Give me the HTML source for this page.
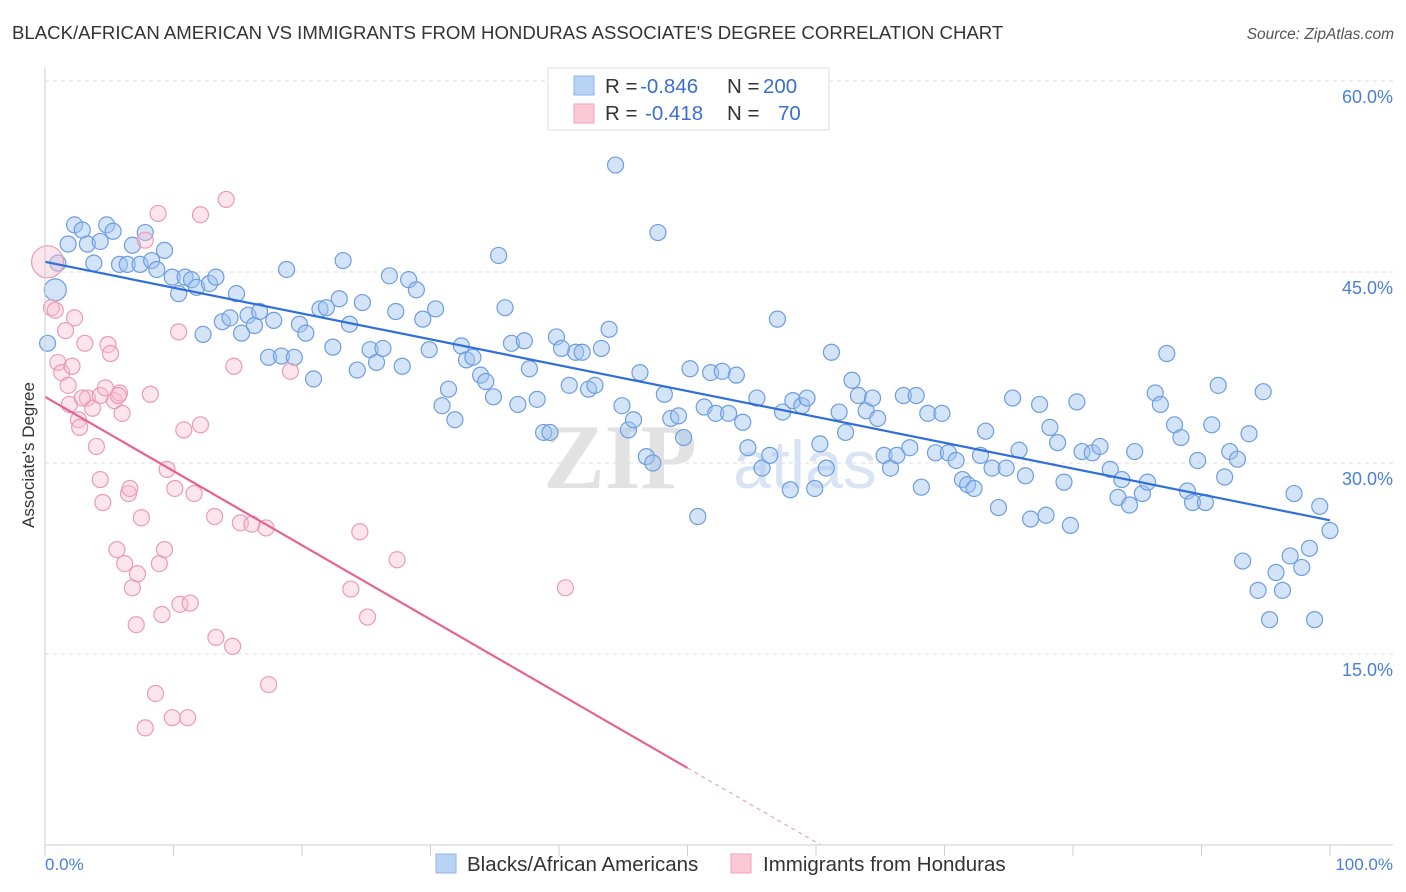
<!DOCTYPE html>
<html><head><meta charset="utf-8"><style>
body{margin:0;background:#fff;font-family:"Liberation Sans",sans-serif;}
svg{display:block}
</style></head><body>
<svg id="chart" width="1406" height="892">
<text x="12" y="39" font-size="18.6" fill="#333">BLACK/AFRICAN AMERICAN VS IMMIGRANTS FROM HONDURAS ASSOCIATE'S DEGREE CORRELATION CHART</text>
<text x="1394" y="39" font-size="15.5" fill="#555" font-style="italic" text-anchor="end">Source: ZipAtlas.com</text>
<g id="grid"></g>
<text x="620" y="488" font-size="92" fill="#e2e2e2" font-family="Liberation Serif" font-weight="bold" text-anchor="middle">ZIP</text>
<text x="805" y="488" font-size="68" fill="#d8e4f4" text-anchor="middle">atlas</text>
<g id="pts"></g>
<g id="lines"></g>
<line x1="45" y1="68" x2="45" y2="845" stroke="#ccc"/>
<line x1="45" y1="845" x2="1393" y2="845" stroke="#ccc"/>
<text transform="translate(34,455) rotate(-90)" font-size="17" fill="#333" text-anchor="middle">Associate's Degree</text>
<text x="45" y="870" font-size="17" fill="#4a7fd6">0.0%</text>
<text x="1393" y="870" font-size="17" fill="#4a7fd6" text-anchor="end">100.0%</text>
<g>
<rect x="548" y="68" width="281" height="62" fill="#fff" stroke="#ddd"/>
<rect x="574" y="76" width="20" height="19" fill="#b9d3f5" stroke="#8fb3e8"/>
<rect x="574" y="104" width="20" height="19" fill="#fbc8d8" stroke="#f0a0b8"/>
<text x="605" y="93" font-size="20.5" fill="#333">R = <tspan x="640" fill="#3a6fd0">-0.846</tspan><tspan x="727">N = </tspan><tspan x="763" fill="#3a6fd0">200</tspan></text>
<text x="605" y="120" font-size="20.5" fill="#333">R = <tspan x="645" fill="#3a6fd0">-0.418</tspan><tspan x="727">N = </tspan><tspan x="778" fill="#3a6fd0">70</tspan></text>
</g>
<g>
<rect x="436" y="854" width="20" height="19" fill="#b9d3f5" stroke="#8fb3e8"/>
<text x="467" y="871" font-size="20.5" fill="#333">Blacks/African Americans</text>
<rect x="731" y="854" width="20" height="19" fill="#fbc8d8" stroke="#f0a0b8"/>
<text x="763" y="871" font-size="20.5" fill="#333">Immigrants from Honduras</text>
</g>
</svg>
<script>
const yTicks=[15,30,45,60];
const yTickLabels=["15.0%","30.0%","45.0%","60.0%"];
const blueX=[0.2,0.8,1.0,1.8,2.3,2.9,3.3,3.8,4.3,4.8,5.3,5.8,6.4,6.8,7.4,7.8,8.3,8.7,9.3,9.9,10.4,10.9,11.4,11.8,12.3,12.8,13.3,13.8,14.4,14.9,15.3,15.8,16.3,16.7,17.4,17.8,18.4,18.8,19.4,19.8,20.3,20.9,21.4,21.9,22.4,22.9,23.2,23.7,24.3,24.7,25.3,25.8,26.3,26.8,27.3,27.8,28.3,28.9,29.4,29.9,30.4,30.9,31.4,31.9,32.4,32.8,33.3,33.9,34.3,34.9,35.3,35.8,36.3,36.8,37.3,37.7,38.3,38.8,39.3,39.8,40.2,40.8,41.3,41.8,42.3,42.8,43.3,43.9,44.4,44.9,45.4,45.8,46.3,46.8,47.3,47.7,48.2,48.7,49.3,49.7,50.2,50.8,51.3,51.8,52.2,52.7,53.2,53.8,54.3,54.7,55.4,55.8,56.4,57.0,57.4,58.0,58.2,58.9,59.3,59.9,60.3,60.8,61.2,61.8,62.3,62.8,63.3,63.9,64.4,64.8,65.3,65.8,66.3,66.8,67.3,67.8,68.2,68.7,69.3,69.8,70.3,70.9,71.4,71.8,72.3,72.8,73.2,73.7,74.2,74.8,75.3,75.8,76.3,76.7,77.4,77.9,78.2,78.8,79.3,79.8,80.3,80.7,81.5,82.1,82.9,83.5,83.8,84.4,84.8,85.4,85.8,86.4,86.8,87.3,87.9,88.4,88.9,89.3,89.7,90.3,90.8,91.3,91.8,92.2,92.8,93.2,93.7,94.4,94.8,95.3,95.8,96.3,96.9,97.2,97.8,98.4,98.8,99.2,100];
const blueY=[39.4,43.6,45.7,47.2,48.7,48.3,47.2,45.7,47.4,48.7,48.2,45.6,45.6,47.1,45.6,48.1,45.9,45.2,46.7,44.6,43.3,44.6,44.4,43.8,40.1,44.1,44.6,41.1,41.4,43.3,40.2,41.6,40.8,41.9,38.3,41.2,38.4,45.2,38.3,40.9,40.2,36.6,42.1,42.2,39.1,42.9,45.9,40.9,37.3,42.6,38.9,37.9,39.0,44.7,41.9,37.6,44.4,43.6,41.3,38.9,42.1,34.5,35.8,33.4,39.2,38.1,38.3,36.9,36.4,35.2,46.3,42.2,39.4,34.6,39.6,37.4,35.0,32.4,32.4,39.9,39.0,36.1,38.7,38.7,35.8,36.1,39.0,40.5,53.4,34.5,32.6,33.4,37.1,30.5,30.0,48.1,35.4,33.5,33.7,32.0,37.4,25.8,34.4,37.1,33.9,37.2,33.9,36.9,33.2,31.2,35.1,29.6,30.6,41.3,34.0,27.9,34.9,34.5,35.1,28.0,31.5,29.6,38.7,34.0,32.4,36.5,35.3,34.1,35.1,33.5,30.6,29.6,30.6,35.3,31.2,35.3,28.1,33.9,30.8,33.9,30.8,30.2,28.7,28.3,28.0,30.6,32.5,29.6,26.5,29.6,35.1,31.0,29.0,25.6,34.6,25.9,32.8,31.6,28.5,25.1,34.8,30.9,30.8,31.3,29.5,27.3,28.7,26.7,30.9,27.6,28.5,35.5,34.6,38.6,33.0,32.0,27.8,26.9,30.2,26.9,33.0,36.1,28.9,30.9,30.3,22.3,32.3,20.0,35.6,17.7,21.4,20.0,22.7,27.6,21.8,23.3,17.7,26.6,24.7];
const pinkX=[0.2,0.5,0.8,1.0,1.3,1.6,1.8,2.1,2.3,2.6,2.7,3.1,3.3,3.7,4.0,4.3,4.5,4.9,5.1,5.4,5.6,5.8,6.0,6.2,6.5,6.6,6.8,7.1,7.2,7.5,7.8,8.2,8.6,8.8,8.9,9.1,9.3,9.5,9.9,10.1,10.5,10.8,11.1,11.3,11.6,12.1,12.1,13.2,13.3,14.1,14.6,14.7,15.2,16.1,17.2,17.4,19.1,23.8,24.5,25.1,27.4,40.5,7.8,1.9,2.9,4.3,5.7,4.7,10.4];
const pinkY=[45.8,42.2,42.0,37.9,37.1,40.4,36.1,37.6,41.4,33.4,32.8,39.4,35.1,34.3,31.3,28.7,26.9,39.3,38.6,34.9,23.2,35.5,33.9,22.1,27.6,28.0,20.2,17.3,21.3,25.7,9.2,35.4,11.9,49.6,22.1,18.1,23.2,29.5,10.0,28.0,18.9,32.6,10.0,19.0,27.6,49.5,33.0,25.8,16.3,50.7,15.6,37.6,25.3,25.2,24.9,12.6,37.2,20.1,24.6,17.9,22.4,20.2,47.5,34.6,35.1,35.3,35.3,35.9,40.3];
const blueTrend=[45.8,25.5];
const pinkTrend=[35.2,-0.583];
const pinkSolidEnd=50;

const X0=45,X1=1330,Y0=845,YPX=12.733;
const sx=v=>X0+(X1-X0)*v/100;
const sy=v=>Y0-v*YPX;
const NS="http://www.w3.org/2000/svg";
function mk(tag,attrs,parent){const e=document.createElementNS(NS,tag);for(const k in attrs)e.setAttribute(k,attrs[k]);parent.appendChild(e);return e;}
const grid=document.getElementById('grid');
yTicks.forEach((t,i)=>{
  const l=mk('line',{x1:45,x2:1393,y1:sy(t),y2:sy(t),stroke:'#ddd','stroke-dasharray':'4,4'},grid);
  
  
  const tx=mk('text',{x:1393,y:sy(t)+22,'font-size':18,fill:'#4a7fd6','text-anchor':'end'},grid);
  tx.textContent=yTickLabels[i];
  
  
});
for(let i=0;i<=10;i++){
  const l=mk('line',{x1:sx(i*10),x2:sx(i*10),y1:845,y2:856,stroke:'#ccc'},grid);
  
  
}
const pts=document.getElementById('pts');
blueX.forEach((x,i)=>{
  const c=mk('circle',{cx:sx(x),cy:sy(blueY[i]),r:i==1?11:8,fill:'rgba(160,195,240,0.45)',stroke:'#6d9de0','stroke-width':1.2},pts);
  
  
});
pinkX.forEach((x,i)=>{
  const c=mk('circle',{cx:sx(x),cy:sy(pinkY[i]),r:i==0?16:8,fill:'rgba(248,190,210,0.4)',stroke:'#ec9ab5','stroke-width':1.2},pts);
  
  
});
const lines=document.getElementById('lines');
const bl=mk('line',{x1:sx(0),y1:sy(blueTrend[0]),x2:sx(100),y2:sy(blueTrend[1]),stroke:'#2f6fd8','stroke-width':2.2},lines);


const pEnd=pinkTrend[0]+pinkTrend[1]*pinkSolidEnd;
const zeroX=-pinkTrend[0]/pinkTrend[1];
const pl=mk('line',{x1:sx(0),y1:sy(pinkTrend[0]),x2:sx(pinkSolidEnd),y2:sy(pEnd),stroke:'#e8628e','stroke-width':2.2},lines);


const pd=mk('line',{x1:sx(pinkSolidEnd),y1:sy(pEnd),x2:sx(zeroX),y2:sy(0),stroke:'#e8a0b8','stroke-width':1.2,'stroke-dasharray':'4,4'},lines);


</script>
</body></html>
